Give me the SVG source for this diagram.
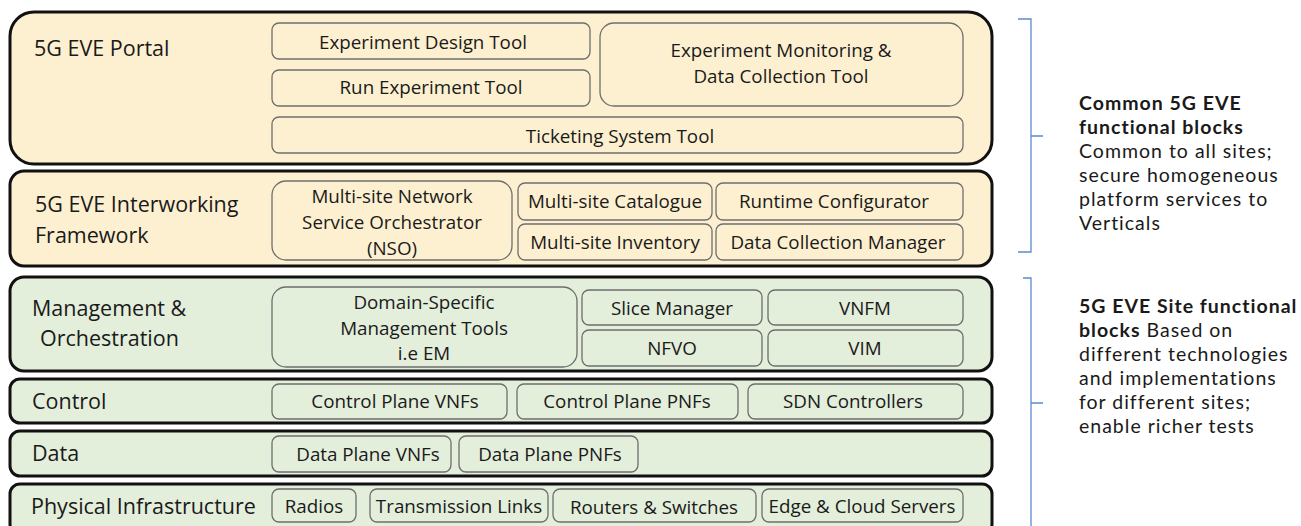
<svg xmlns="http://www.w3.org/2000/svg" width="1301" height="526" viewBox="0 0 1301 526">
<style>
text{font-family:"Open Sans",Lato,"Liberation Sans",sans-serif;fill:#1a1a1a}
.outer{stroke:#111;stroke-width:3}
.y{fill:#fdf0d0}
.g{fill:#e3eedb}
.in{stroke:#6e6e6e;stroke-width:1.3}
.lbl{font-size:21.5px}
.t{font-size:18.8px;text-anchor:middle}
.r{font-family:Lato,"Open Sans",sans-serif;font-size:19.5px;letter-spacing:1px}
.b{font-weight:bold}
.br{fill:none;stroke:#5b8bd0;stroke-width:1.3}
</style>
<g id="portal">
<rect class="outer y" x="10" y="12" width="982" height="152" rx="24"/>
<text class="lbl" x="34" y="56">5G EVE Portal</text>
<rect class="in y" x="272" y="23" width="318" height="36" rx="7"/>
<text class="t" x="423" y="49">Experiment Design Tool</text>
<rect class="in y" x="272" y="70" width="318" height="36" rx="7"/>
<text class="t" x="431" y="94">Run Experiment Tool</text>
<rect class="in y" x="600" y="23" width="363" height="83" rx="14"/>
<text class="t" x="781" y="57">Experiment Monitoring &amp;</text>
<text class="t" x="781" y="83">Data Collection Tool</text>
<rect class="in y" x="272" y="117" width="691" height="36" rx="7"/>
<text class="t" x="620" y="143">Ticketing System Tool</text>
</g>
<g id="interworking">
<rect class="outer y" x="10" y="171" width="982" height="95" rx="14"/>
<text class="lbl" x="35" y="212">5G EVE Interworking</text>
<text class="lbl" x="35" y="243">Framework</text>
<rect class="in y" x="272" y="181" width="240" height="79" rx="14"/>
<text class="t" x="392" y="203">Multi-site Network</text>
<text class="t" x="392" y="229">Service Orchestrator</text>
<text class="t" x="392" y="255">(NSO)</text>
<rect class="in y" x="518" y="183" width="194" height="37" rx="7"/>
<text class="t" x="615" y="208">Multi-site Catalogue</text>
<rect class="in y" x="518" y="224" width="194" height="36" rx="7"/>
<text class="t" x="615" y="249">Multi-site Inventory</text>
<rect class="in y" x="716" y="183" width="247" height="37" rx="7"/>
<text class="t" x="834" y="208">Runtime Configurator</text>
<rect class="in y" x="716" y="224" width="247" height="36" rx="7"/>
<text class="t" x="838" y="249">Data Collection Manager</text>
</g>
<g id="management">
<rect class="outer g" x="10" y="277" width="982" height="94" rx="14"/>
<text class="lbl" x="32" y="316">Management &amp;</text>
<text class="lbl" x="40" y="346">Orchestration</text>
<rect class="in g" x="272" y="287" width="305" height="80" rx="14"/>
<text class="t" x="424" y="309">Domain-Specific</text>
<text class="t" x="424" y="335">Management Tools</text>
<text class="t" x="424" y="360">i.e EM</text>
<rect class="in g" x="582" y="290" width="180" height="35" rx="7"/>
<text class="t" x="672" y="315">Slice Manager</text>
<rect class="in g" x="582" y="330" width="180" height="36" rx="7"/>
<text class="t" x="672" y="355">NFVO</text>
<rect class="in g" x="768" y="290" width="195" height="35" rx="7"/>
<text class="t" x="865" y="315">VNFM</text>
<rect class="in g" x="768" y="330" width="195" height="36" rx="7"/>
<text class="t" x="865" y="355">VIM</text>
</g>
<g id="control">
<rect class="outer g" x="10" y="379" width="982" height="44" rx="10"/>
<text class="lbl" x="32" y="409">Control</text>
<rect class="in g" x="272" y="384" width="235" height="35" rx="7"/>
<text class="t" x="395" y="408">Control Plane VNFs</text>
<rect class="in g" x="517" y="384" width="221" height="35" rx="7"/>
<text class="t" x="627" y="408">Control Plane PNFs</text>
<rect class="in g" x="748" y="384" width="215" height="35" rx="7"/>
<text class="t" x="853" y="408">SDN Controllers</text>
</g>
<g id="data">
<rect class="outer g" x="10" y="431" width="982" height="45" rx="10"/>
<text class="lbl" x="32" y="461">Data</text>
<rect class="in g" x="272" y="436" width="179" height="36" rx="7"/>
<text class="t" x="368" y="461">Data Plane VNFs</text>
<rect class="in g" x="459" y="436" width="179" height="36" rx="7"/>
<text class="t" x="550" y="461">Data Plane PNFs</text>
</g>
<g id="physical">
<rect class="outer g" x="10" y="484" width="982" height="50" rx="10"/>
<text class="lbl" x="31" y="514">Physical Infrastructure</text>
<rect class="in g" x="272" y="489" width="84" height="33" rx="7"/>
<text class="t" x="314" y="513">Radios</text>
<rect class="in g" x="370" y="489" width="178" height="33" rx="7"/>
<text class="t" x="459" y="513">Transmission Links</text>
<rect class="in g" x="553" y="489" width="203" height="33" rx="7"/>
<text class="t" x="654" y="514">Routers &amp; Switches</text>
<rect class="in g" x="762" y="489" width="201" height="33" rx="7"/>
<text class="t" x="862" y="513">Edge &amp; Cloud Servers</text>
</g>
<g id="connectors">
<path class="br" d="M1018 19 H1031 V252 H1018 M1031 136 H1043"/>
<path class="br" d="M1023 278 H1031 V530 M1031 403 H1043"/>
</g>
<g id="common-note">
<text class="r b" x="1079" y="110">Common 5G EVE</text>
<text class="r b" x="1079" y="134">functional blocks</text>
<text class="r" x="1079" y="158">Common to all sites;</text>
<text class="r" x="1079" y="182">secure homogeneous</text>
<text class="r" x="1079" y="206">platform services to</text>
<text class="r" x="1079" y="230">Verticals</text>
</g>
<g id="site-note">
<text class="r b" x="1079" y="313">5G EVE Site functional</text>
<text class="r" x="1079" y="337"><tspan class="b">blocks</tspan> Based on</text>
<text class="r" x="1079" y="361">different technologies</text>
<text class="r" x="1079" y="385">and implementations</text>
<text class="r" x="1079" y="409">for different sites;</text>
<text class="r" x="1079" y="433">enable richer tests</text>
</g>
</svg>
